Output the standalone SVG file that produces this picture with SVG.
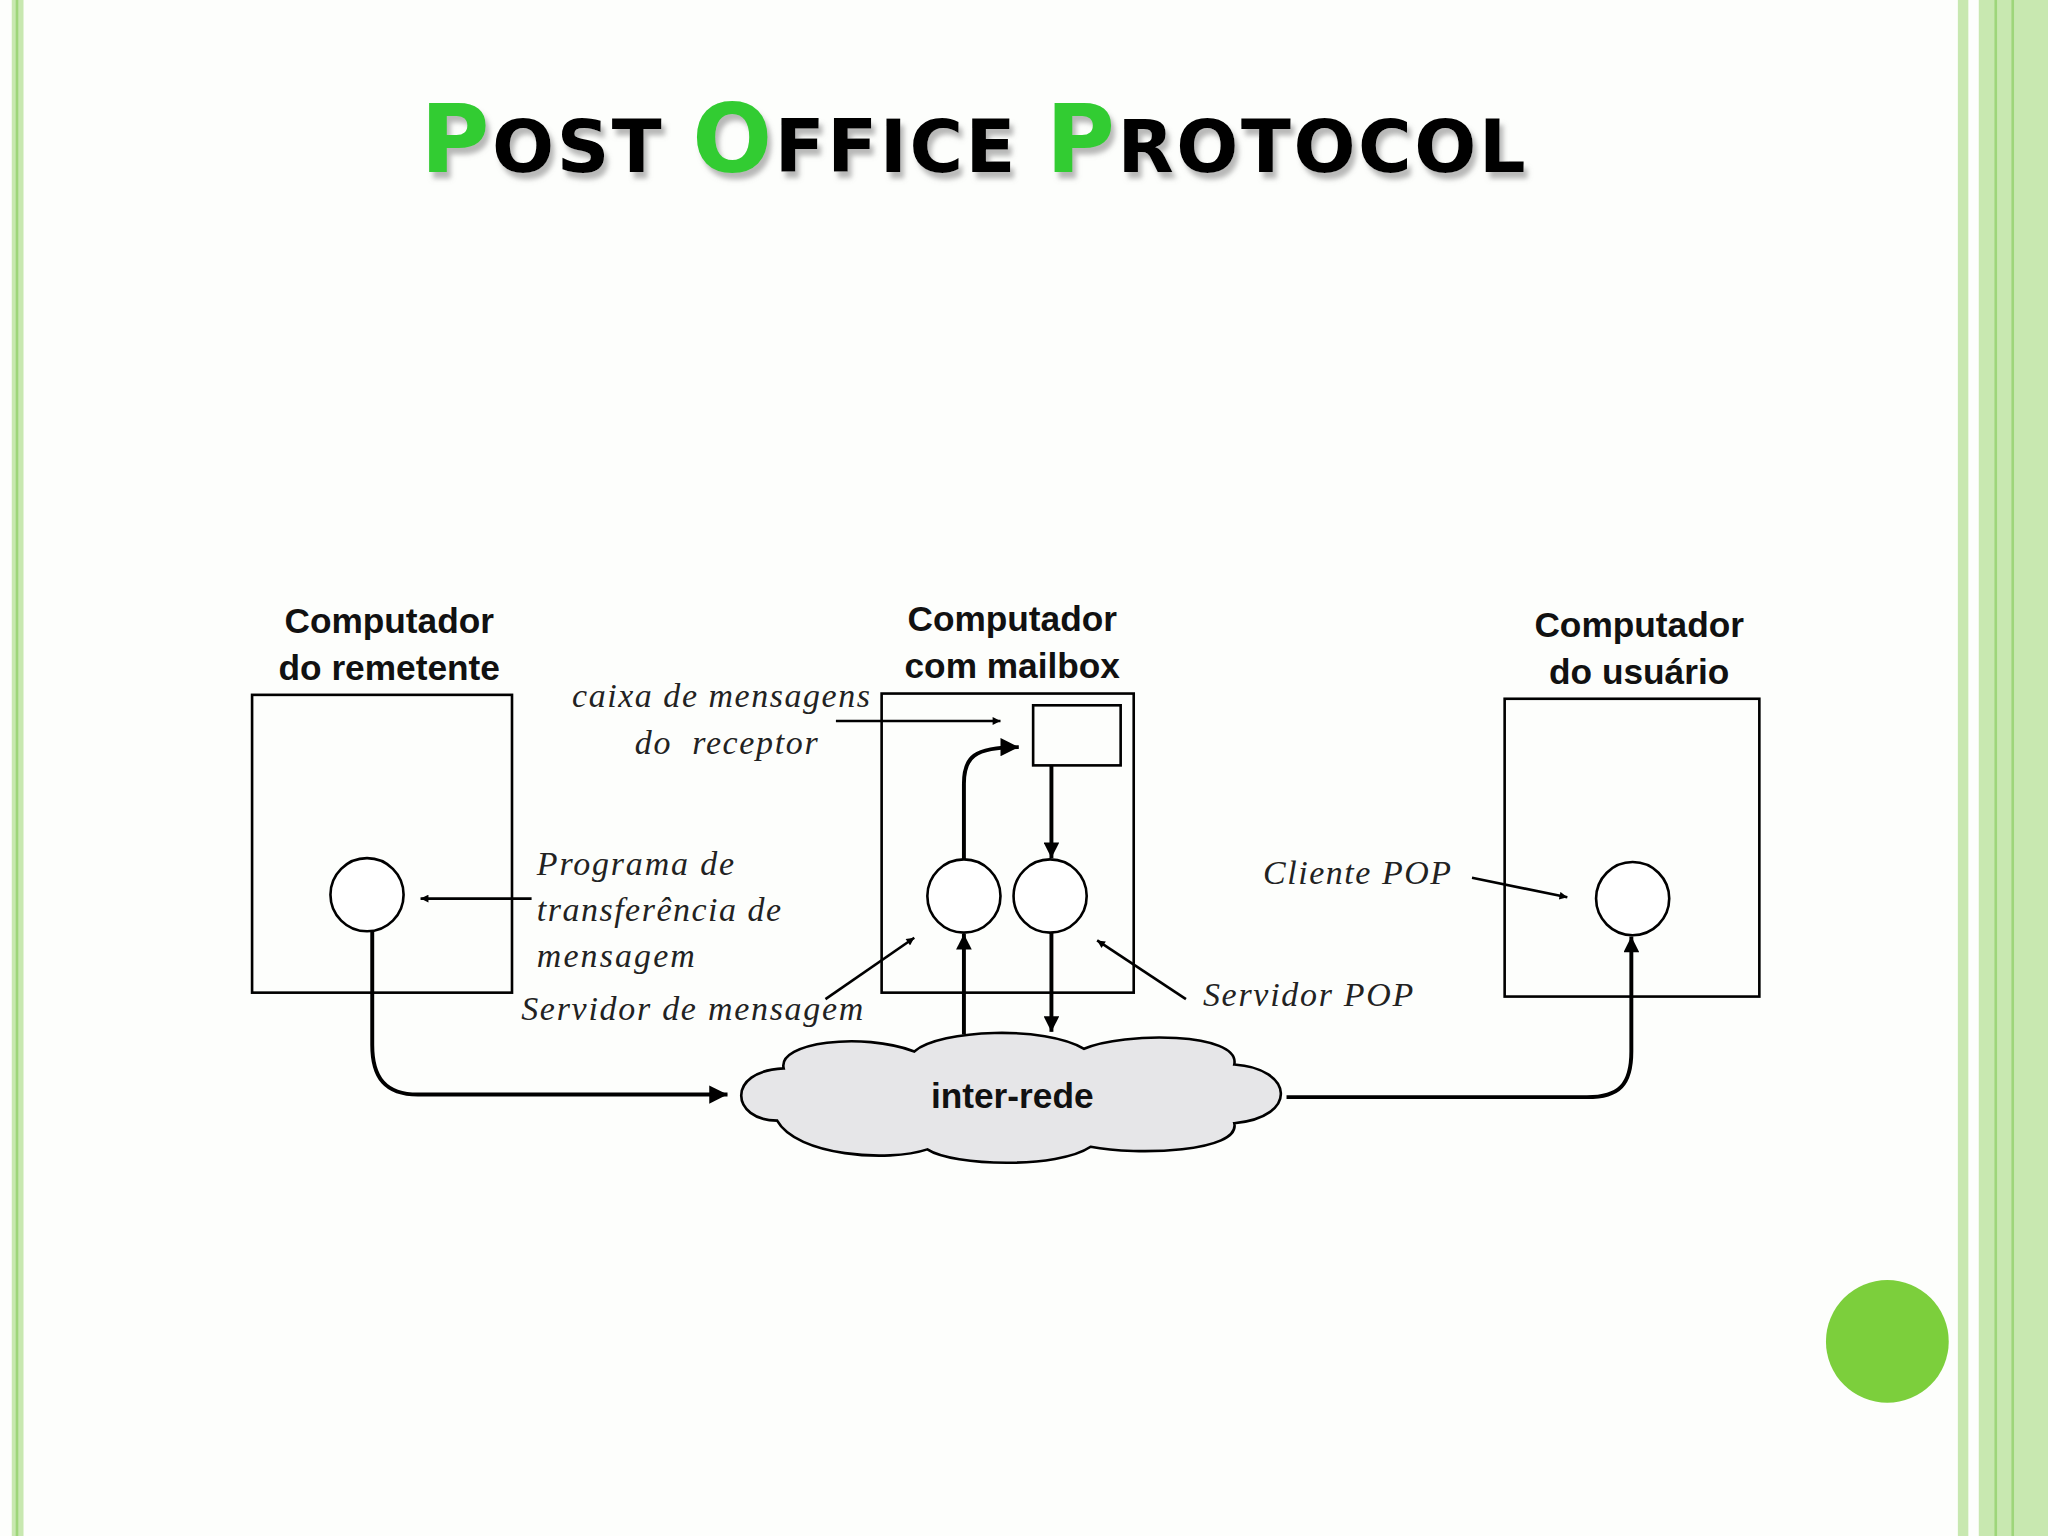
<svg xmlns="http://www.w3.org/2000/svg" width="2048" height="1536" viewBox="0 0 2048 1536">
<defs>
<style>
.ln{fill:none;stroke:#000;stroke-width:2}
.th{fill:none;stroke:#000;stroke-width:3}
.bx{fill:none;stroke:#000;stroke-width:2}
.nd{fill:#fff;stroke:#000;stroke-width:2}
.hd{font-family:"Liberation Sans",Arial,sans-serif;font-weight:bold;font-size:27px;text-anchor:middle;fill:#111}
.it{font-family:"Liberation Serif","Times New Roman",serif;font-style:italic;font-size:26px;fill:#222}
.tt{font-family:"DejaVu Sans",sans-serif;font-weight:bold;fill:#000;letter-spacing:2px}
.tg{fill:#33cc33}
</style>
<filter id="sh" x="-5%" y="-20%" width="110%" height="150%"><feDropShadow dx="3" dy="5" stdDeviation="2" flood-color="#888" flood-opacity="0.6"/></filter>
<marker id="a" viewBox="0 0 10 10" refX="10" refY="5" markerWidth="8" markerHeight="6" orient="auto" markerUnits="userSpaceOnUse"><path d="M0,0L10,5L0,10z"/></marker>
<marker id="A" viewBox="0 0 10 10" refX="10" refY="5" markerWidth="26" markerHeight="14" orient="auto" markerUnits="userSpaceOnUse"><path d="M0,0L10,5L0,10z"/></marker>
<marker id="V" viewBox="0 0 10 10" refX="10" refY="5" markerWidth="18" markerHeight="12" orient="auto" markerUnits="userSpaceOnUse"><path d="M0,0L10,5L0,10z"/></marker>
</defs>
<rect width="2048" height="1536" fill="#fdfefc"/>
<g transform="scale(1.30612)">
<g id="borders">
<rect x="9" y="0" width="9" height="1176" fill="#c8e8b0"/>
<rect x="12" y="0" width="2" height="1176" fill="#9ed67a"/>
<rect x="1499" y="0" width="8" height="1176" fill="#c8e8b0"/>
<rect x="1515" y="0" width="53" height="1176" fill="#c8e8b0"/>
<rect x="1527" y="0" width="2" height="1176" fill="#9ed67a"/>
<rect x="1540" y="0" width="2" height="1176" fill="#9ed67a"/>
</g>
<g id="title" filter="url(#sh)">
<text x="322" y="132" class="tt" font-size="72" textLength="848" lengthAdjust="spacing"><tspan class="tg">P</tspan><tspan font-size="56">OST </tspan><tspan class="tg">O</tspan><tspan font-size="56">FFICE </tspan><tspan class="tg">P</tspan><tspan font-size="56">ROTOCOL</tspan></text>
</g>
<g id="sender">
<rect x="193" y="532" width="199" height="228" class="bx"/>
<ellipse cx="281" cy="685" rx="28" ry="28" class="nd"/>
<text x="298" y="485" class="hd">Computador</text>
<text x="298" y="521" class="hd">do remetente</text>
</g>
<g id="mailbox">
<rect x="675" y="531" width="193" height="229" class="bx"/>
<rect x="791" y="540" width="67" height="46" class="bx"/>
<ellipse cx="738" cy="686" rx="28" ry="28" class="nd"/>
<ellipse cx="804" cy="686" rx="28" ry="28" class="nd"/>
<text x="775" y="483" class="hd">Computador</text>
<text x="775" y="519" class="hd">com mailbox</text>
</g>
<g id="user">
<rect x="1152" y="535" width="195" height="228" class="bx"/>
<ellipse cx="1250" cy="688" rx="28" ry="28" class="nd"/>
<text x="1255" y="488" class="hd">Computador</text>
<text x="1255" y="524" class="hd">do usuário</text>
</g>
<g id="cloud">
<path d="M595,858 C560,858 555,820 600,818 C595,798 660,790 700,805 C720,788 800,785 830,803 C860,790 950,790 945,815 C990,818 995,855 945,860 C950,882 870,885 835,878 C810,895 730,893 710,880 C680,890 610,885 595,858 Z" fill="#e6e6e8" stroke="#000" stroke-width="2"/>
<text x="775" y="848" class="hd" font-size="28">inter-rede</text>
</g>
<g id="labels">
<text x="438" y="541" class="it" textLength="228">caixa de mensagens</text>
<text x="486" y="577" class="it" textLength="140" xml:space="preserve">do  receptor</text>
<text x="411" y="670" class="it" textLength="151">Programa de</text>
<text x="411" y="705" class="it" textLength="187">transferência de</text>
<text x="411" y="740" class="it" textLength="121">mensagem</text>
<text x="399" y="781" class="it" textLength="262">Servidor de mensagem</text>
<text x="921" y="770" class="it" textLength="161">Servidor POP</text>
<text x="967" y="677" class="it" textLength="144">Cliente POP</text>
</g>
<g id="connectors">
<path d="M640,552H766" class="ln" marker-end="url(#a)"/>
<path d="M407,688H322" class="ln" marker-end="url(#a)"/>
<path d="M632,765L700,718" class="ln" marker-end="url(#a)"/>
<path d="M908,765L840,720" class="ln" marker-end="url(#a)"/>
<path d="M1127,672L1200,687" class="ln" marker-end="url(#a)"/>
<path d="M738,658V600C738,580 745,572 780,572" class="th" marker-end="url(#A)"/>
<path d="M805,586V657" class="th" marker-end="url(#V)"/>
<path d="M738,792V715" class="th" marker-end="url(#V)"/>
<path d="M805,714V790" class="th" marker-end="url(#V)"/>
<path d="M285,713V800C285,825 295,838 320,838H557" class="th" marker-end="url(#A)"/>
<path d="M985,840H1215C1240,840 1249,830 1249,805V717" class="th" marker-end="url(#V)"/>
</g>
<circle cx="1445" cy="1027" r="47" fill="#7ccf3c"/>
</g>
</svg>
